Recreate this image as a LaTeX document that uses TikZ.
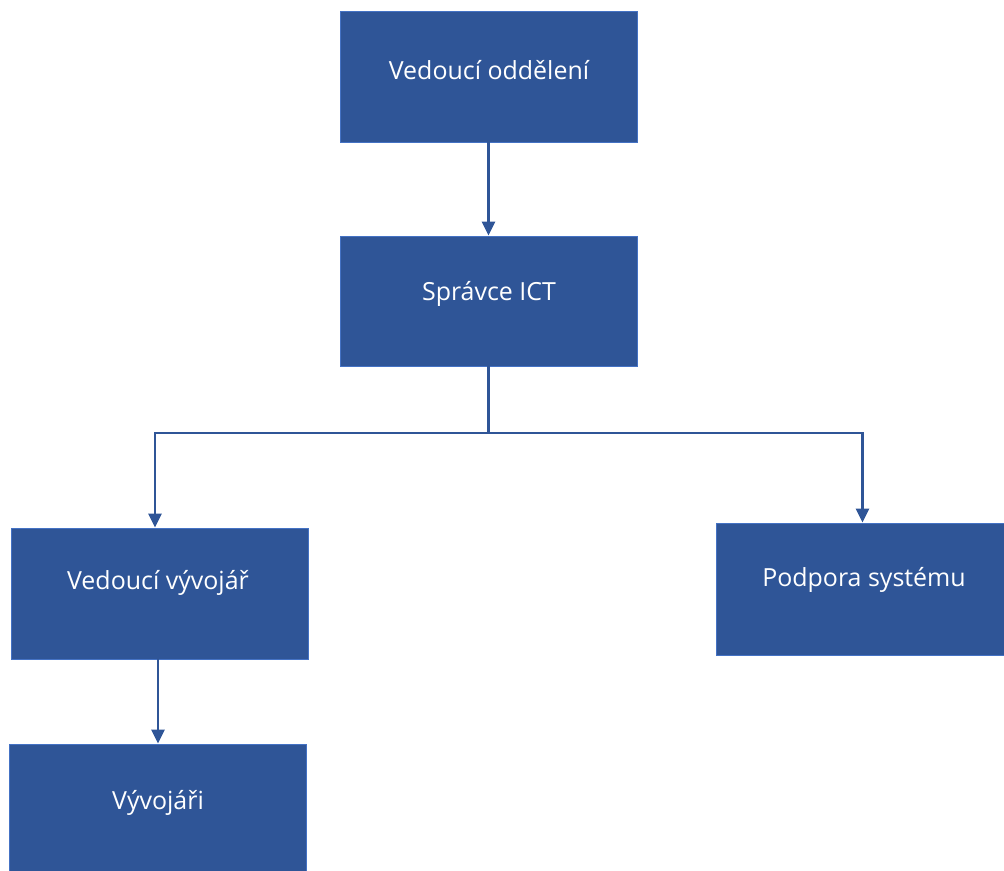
\documentclass[tikz,border=0pt]{standalone}
\usepackage{fontspec}
\setmainfont{Open Sans}
\usetikzlibrary{arrows.meta}
\definecolor{boxblue}{HTML}{2F5597}
\definecolor{edgeblue}{HTML}{4472C4}
\tikzset{
  orgbox/.style={draw=edgeblue, line width=0.5pt, fill=boxblue, inner sep=0pt},
  lbl/.style={text=white, font=\fontsize{14.2pt}{16pt}\selectfont, inner sep=0pt},
  link/.style={draw=boxblue, line width=1.2pt, -{Triangle[width=7.5pt,length=8pt]}},
  plainlink/.style={draw=boxblue, line width=1.2pt}
}
\begin{document}
\begin{tikzpicture}[x=0.02cm, y=-0.02cm]
  \useasboundingbox (0,0) rectangle (1004,870);
  % boxes
  \node[orgbox, minimum width=297*0.02cm, minimum height=131*0.02cm] (ved) at (488.5,76.5) {};
  \node[lbl] (vedt) at (489,70) {Vedoucí oddělení};
  \node[orgbox, minimum width=297*0.02cm, minimum height=130*0.02cm] (spr) at (488.5,301) {};
  \node[lbl] (sprt) at (489,294) {Správce ICT};
  \node[orgbox, minimum width=297*0.02cm, minimum height=131*0.02cm] (vv) at (159.5,593.5) {};
  \node[lbl] (vvt) at (158,583) {Vedoucí vývojář};
  \node[orgbox, minimum width=300*0.02cm, minimum height=132*0.02cm] (pod) at (866,589) {};
  \node[lbl] (podt) at (864,580) {Podpora systému};
  \node[orgbox, minimum width=297*0.02cm, minimum height=140*0.02cm] (dev) at (157.5,814) {};
  \node[lbl] (devt) at (158,803) {Vývojáři};
  % connectors
  \coordinate (split) at (488.5,433);
  \draw[link] (ved.south) -- (spr.north);
  \draw[plainlink] (spr.south) -- (split);
  \draw[link] (split) -| (vv.north -| 155,0);
  \draw[link] (split) -| (pod.north -| 862.5,0);
  \draw[link] (vv.south -| 158,0) -- (dev.north -| 158,0);
\end{tikzpicture}
\end{document}
